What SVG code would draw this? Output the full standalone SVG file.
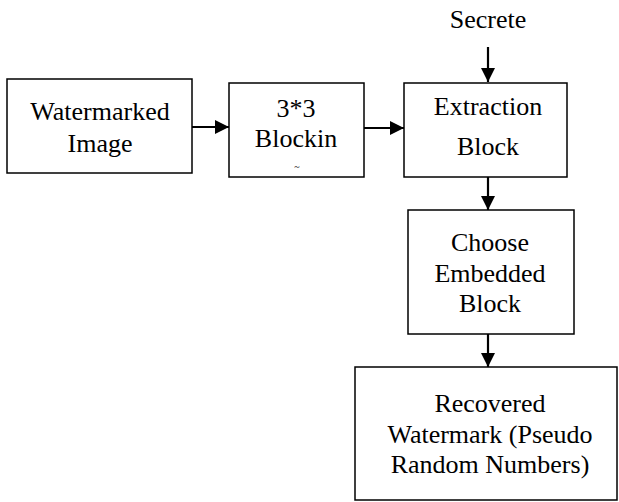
<svg xmlns="http://www.w3.org/2000/svg" width="619" height="502" viewBox="0 0 619 502">
<defs>
<style>
.box{fill:#fff;stroke:#000;stroke-width:1.5}
.t{font-family:'Liberation Serif','Times New Roman',Times,'DejaVu Serif',serif;font-size:26px;fill:#000;text-anchor:middle}
.c{stroke:#000;stroke-width:2.2;fill:none}
</style>
<marker id="ah" markerWidth="14" markerHeight="14" viewBox="0 0 14 14" refX="14" refY="7" orient="auto" markerUnits="userSpaceOnUse">
<path d="M0,0 L14,7 L0,14 Z" fill="#000"/>
</marker>
</defs>
<rect width="619" height="502" fill="#fff"/>
<g id="connectors">
<line class="c" x1="192" y1="127" x2="229" y2="127" marker-end="url(#ah)"/>
<line class="c" x1="364" y1="128" x2="404" y2="128" marker-end="url(#ah)"/>
<line class="c" x1="488" y1="47" x2="488" y2="82" marker-end="url(#ah)"/>
<line class="c" x1="488" y1="177" x2="488" y2="210" marker-end="url(#ah)"/>
<line class="c" x1="488" y1="334" x2="488" y2="367" marker-end="url(#ah)"/>
</g>
<g id="secrete">
<text class="t" x="488" y="28" font-family="Liberation Serif, serif">Secrete</text>
</g>
<g id="watermarked-image">
<rect class="box" x="7" y="79" width="185" height="94"/>
<text class="t" x="100" y="120">Watermarked</text>
<text class="t" x="100" y="152">Image</text>
</g>
<g id="blocking">
<rect class="box" x="229" y="83" width="135" height="94"/>
<text class="t" x="296" y="117">3*3</text>
<text class="t" x="296" y="147">Blockin</text>
<text class="t" x="297" y="170" style="font-size:10px">~</text>
</g>
<g id="extraction">
<rect class="box" x="404" y="83" width="163" height="94"/>
<text class="t" x="488" y="115">Extraction</text>
<text class="t" x="488" y="155">Block</text>
</g>
<g id="choose">
<rect class="box" x="408" y="210" width="166" height="124"/>
<text class="t" x="490" y="251">Choose</text>
<text class="t" x="490" y="282">Embedded</text>
<text class="t" x="490" y="312">Block</text>
</g>
<g id="recovered">
<rect class="box" x="355" y="367" width="262" height="133"/>
<text class="t" x="490" y="412">Recovered</text>
<text class="t" x="490" y="443">Watermark (Pseudo</text>
<text class="t" x="490" y="473">Random Numbers)</text>
</g>
</svg>
